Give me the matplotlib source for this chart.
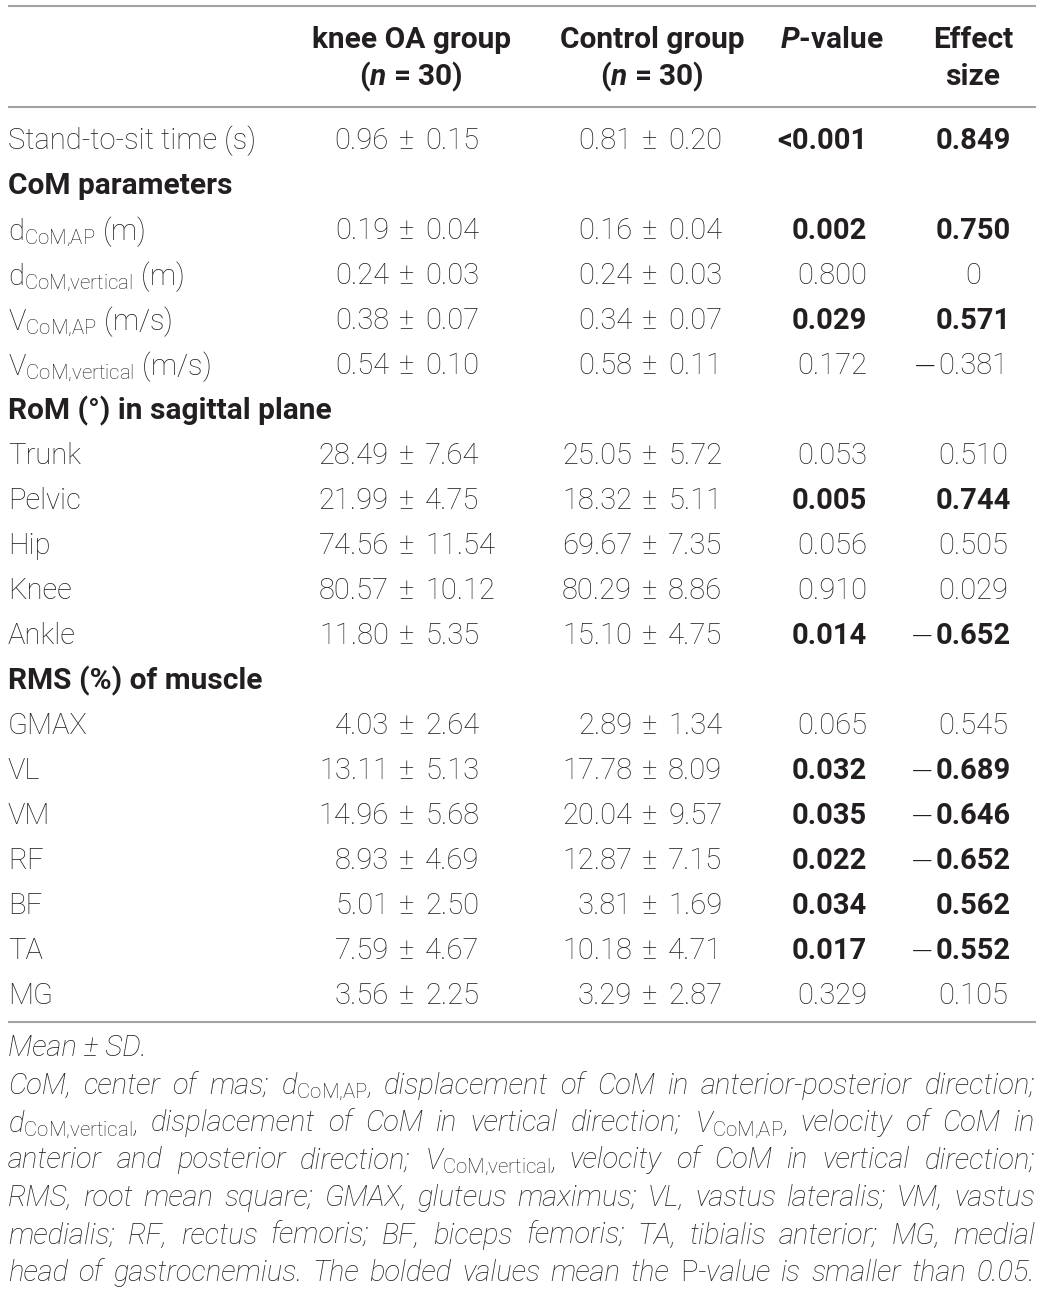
import matplotlib
matplotlib.use("Agg")
import matplotlib.pyplot as plt

plt.rcParams['font.family'] = 'Roboto'
plt.rcParams['mathtext.fontset'] = 'custom'
plt.rcParams['mathtext.rm'] = 'Roboto:light'
plt.rcParams['mathtext.it'] = 'Roboto:italic:bold'
plt.rcParams['mathtext.bf'] = 'Roboto:bold'

# table data (None = section heading row)
labels = ["Stand-to-sit time (s)", "CoM parameters",
          r"d$_{\mathrm{CoM{,}AP}}$ (m)", r"d$_{\mathrm{CoM{,}vertical}}$ (m)",
          r"V$_{\mathrm{CoM{,}AP}}$ (m/s)", r"V$_{\mathrm{CoM{,}vertical}}$ (m/s)",
          "RoM (°) in sagittal plane",
          "Trunk", "Pelvic", "Hip", "Knee", "Ankle",
          "RMS (%) of muscle",
          "GMAX", "VL", "VM", "RF", "BF", "TA", "MG"]
oa_mean = [0.96, None, 0.19, 0.24, 0.38, 0.54, None, 28.49, 21.99, 74.56, 80.57, 11.80,
           None, 4.03, 13.11, 14.96, 8.93, 5.01, 7.59, 3.56]
oa_sd = [0.15, None, 0.04, 0.03, 0.07, 0.10, None, 7.64, 4.75, 11.54, 10.12, 5.35,
         None, 2.64, 5.13, 5.68, 4.69, 2.50, 4.67, 2.25]
ctl_mean = [0.81, None, 0.16, 0.24, 0.34, 0.58, None, 25.05, 18.32, 69.67, 80.29, 15.10,
            None, 2.89, 17.78, 20.04, 12.87, 3.81, 10.18, 3.29]
ctl_sd = [0.20, None, 0.04, 0.03, 0.07, 0.11, None, 5.72, 5.11, 7.35, 8.86, 4.75,
          None, 1.34, 8.09, 9.57, 7.15, 1.69, 4.71, 2.87]
p_values = ["<0.001", None, "0.002", "0.800", "0.029", "0.172", None, "0.053", "0.005",
            "0.056", "0.910", "0.014", None, "0.065", "0.032", "0.035", "0.022", "0.034",
            "0.017", "0.329"]
effect = [0.849, None, 0.750, 0, 0.571, -0.381, None, 0.510, 0.744, 0.505, 0.029, -0.652,
          None, 0.545, -0.689, -0.646, -0.652, 0.562, -0.552, 0.105]

note_lines = [
    "Mean ± SD.",
    r"CoM, center of mas; d$_{\mathrm{CoM{,}AP}}$, displacement of CoM in anterior-posterior direction;",
    r"d$_{\mathrm{CoM{,}vertical}}$, displacement of CoM in vertical direction; V$_{\mathrm{CoM{,}AP}}$, velocity of CoM in",
    r"anterior and posterior direction; V$_{\mathrm{CoM{,}vertical}}$, velocity of CoM in vertical direction;",
    "RMS, root mean square; GMAX, gluteus maximus; VL, vastus lateralis; VM, vastus",
    "medialis; RF, rectus femoris; BF, biceps femoris; TA, tibialis anterior; MG, medial",
    r"head of gastrocnemius. The bolded values mean the $\mathrm{P}$-value is smaller than 0.05.",
]

W, H = 1042, 1293
INK = '#231f20'
RULE = '#a3a3a3'
FS = 21
FSB = 21.5
ROW0, STEP = 149, 45

fig = plt.figure(figsize=(W / 100, H / 100), dpi=100)
ax = fig.add_axes([0, 0, 1, 1])
ax.set_xlim(0, W)
ax.set_ylim(H, 0)
ax.axis('off')
renderer = fig.canvas.get_renderer()

def txt(x, y, s, ha='left', weight='light', **kw):
    kw.setdefault('fontsize', FSB if weight == 'bold' else FS)
    return ax.text(x, y, s, ha=ha, va='baseline', color=INK, fontweight=weight, **kw)

# rules
for yy in (6, 107, 1022):
    ax.plot([8, 1036], [yy, yy], color=RULE, lw=1.5, solid_capstyle='butt')

# header
txt(411, 48, "knee OA group", ha='center', weight='bold')
txt(411, 85, r"($\mathit{n}$ = 30)", ha='center', weight='bold')
txt(652, 48, "Control group", ha='center', weight='bold')
txt(652, 85, r"($\mathit{n}$ = 30)", ha='center', weight='bold')
txt(832, 48, r"$\mathit{P}$-value", ha='center', weight='bold')
txt(973, 48, "Effect", ha='center', weight='bold')
txt(973, 85, "size", ha='center', weight='bold')

# body
for i, lab in enumerate(labels):
    y = ROW0 + STEP * i
    if oa_mean[i] is None:
        txt(8, y, lab, weight='bold')
        continue
    txt(8, y, lab)
    for dx, m, sd in ((0, oa_mean[i], oa_sd[i]), (243, ctl_mean[i], ctl_sd[i])):
        txt(389 + dx, y, f"{m:.2f}", ha='right')
        txt(407 + dx, y, "±", ha='center')
        txt(425 + dx, y, f"{sd:.2f}")
    sig = float(p_values[i].lstrip('<')) < 0.05
    w = 'bold' if sig else 'light'
    txt(867, y, p_values[i], ha='right', weight=w, fontsize=FS)
    e = effect[i]
    core = "0" if e == 0 else f"{abs(e):.3f}"
    t = txt(973, y, core, ha='center', weight=w, fontsize=FS)
    if e < 0:
        half = t.get_window_extent(renderer).width / 2
        ax.text(973 - half - 1, y - 7.5, "−", ha='right', va='center', color=INK,
                fontsize=FS, family='DejaVu Sans', fontweight='light')

# footnote, justified to the table width
def widths(words, fs):
    ts = [txt(0, 0, wd, fontsize=fs, style='italic') for wd in words]
    ws = [t.get_window_extent(renderer).width for t in ts]
    for t in ts:
        t.remove()
    return ws

fs_note = 21
while fs_note > 12:
    space = 0.25 * fs_note * 100 / 72
    fits = True
    for line in note_lines[1:]:
        ww = widths(line.split(), fs_note)
        if sum(ww) + space * (len(ww) - 1) > 1027:
            fits = False
            break
    if fits:
        break
    fs_note -= 0.25

NOTE0, NSTEP = 1056, 37.5
txt(8, NOTE0, note_lines[0], fontsize=fs_note, style='italic')
for k, line in enumerate(note_lines[1:], start=1):
    words = line.split()
    ww = widths(words, fs_note)
    gap = (1035 - 8 - sum(ww)) / (len(words) - 1)
    x = 8
    for wd, wdt in zip(words, ww):
        txt(x, NOTE0 + NSTEP * k, wd, fontsize=fs_note, style='italic')
        x += wdt + gap

fig.savefig("out.png", dpi=100, facecolor='white')
